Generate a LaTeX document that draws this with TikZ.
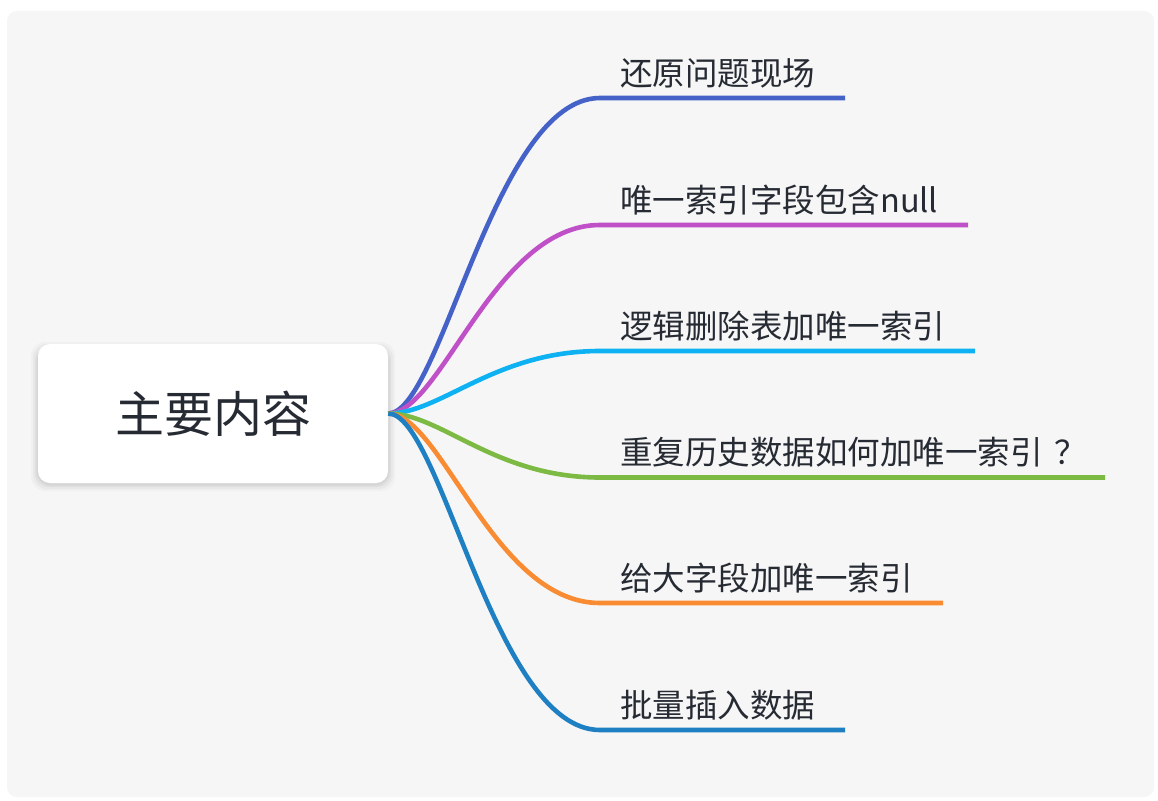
\documentclass[tikz,border=0pt]{standalone}
\usepackage{fontspec}
\newfontfamily\cjk{Noto Sans CJK SC}
\definecolor{pagebg}{HTML}{F6F6F6}
\definecolor{ink}{HTML}{262A33}
\definecolor{cA}{HTML}{4462C8}
\definecolor{cB}{HTML}{C050C8}
\definecolor{cC}{HTML}{0EB2F2}
\definecolor{cD}{HTML}{7CBA44}
\definecolor{cE}{HTML}{F98C32}
\definecolor{cF}{HTML}{1E80C2}
\tikzset{
  rootbox/.style={fill=white, rounded corners=12pt, minimum width=350pt,
    minimum height=139pt, inner sep=0pt, font=\cjk\fontsize{49}{49}\selectfont,
    text=ink},
  label/.style={anchor=base west, inner sep=0pt,
    font=\cjk\fontsize{32.5}{32.5}\selectfont, text=ink},
  branch/.style={line width=4.6pt, line cap=butt},
  thinpart/.style={line width=3pt, line cap=round},
}
\begin{document}
\begin{tikzpicture}[x=1pt, y=-1pt]
\useasboundingbox (0,0) rectangle (1158,800);
% sheet
\fill[white] (0,0) rectangle (1158,800);
\fill[pagebg, rounded corners=10pt] (7,11) rectangle (1154,797);
% soft shadow under the central topic
\foreach \s/\o in {7/0.025,5/0.03,3/0.035,1.5/0.04}
  \fill[black, opacity=\o, rounded corners=14pt]
    (38-\s,346-\s+3) rectangle (388+\s,481+\s+3);
\node[rootbox] (root) at (213,413.5) {主要内容};
% branches
\foreach \n/\y/\xe/\col/\txt in {
  1/98/845/cA/还原问题现场,
  2/225/968/cB/唯一索引字段包含null,
  3/351/975/cC/逻辑删除表加唯一索引,
  4/477.5/1105/cD/重复历史数据如何加唯一索引\kern12pt？,
  5/603/943/cE/给大字段加唯一索引,
  6/730/845/cF/批量插入数据}{
  \coordinate (e\n) at (\xe,\y);
  \coordinate (k\n) at (600,\y);
  \draw[branch, draw=\col] (root.east)
    .. controls ([xshift=53pt]root.east) and (494,\y) .. (k\n) -- (e\n);
  \node[label] (t\n) at (620,\y-13) {\txt};
}
\end{tikzpicture}
\end{document}
